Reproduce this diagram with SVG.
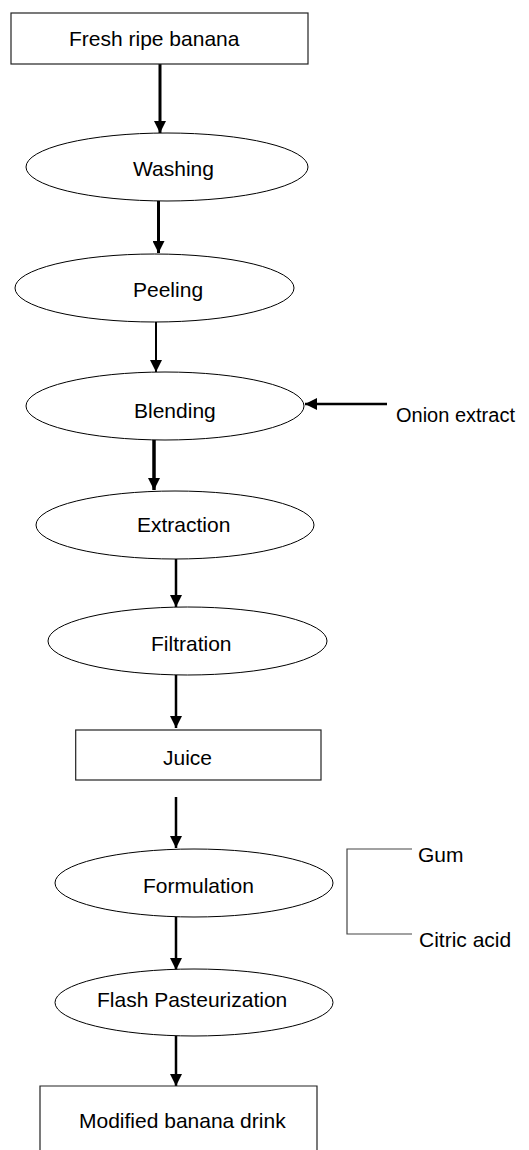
<svg xmlns="http://www.w3.org/2000/svg" width="529" height="1150" viewBox="0 0 529 1150">
<defs>
<marker id="ah" markerUnits="userSpaceOnUse" markerWidth="12" markerHeight="12" refX="12" refY="6" orient="auto">
<path d="M0,0 L12,6 L0,12 z" fill="#000"/>
</marker>
<style>
.box{fill:#fff;stroke:#222;stroke-width:1.2}
.ell{fill:#fff;stroke:#000;stroke-width:1}
.t{font-family:"Liberation Sans",Arial,sans-serif;font-size:21px;fill:#000}
.side{font-family:"Liberation Sans",Arial,sans-serif;font-size:20px;fill:#000}
.arr{stroke:#000;fill:none;marker-end:url(#ah)}
.br{stroke:#444;fill:none;stroke-width:1.2}
</style>
</defs>
<rect width="529" height="1150" fill="#fff"/>
<g id="connectors">
<line class="arr" x1="160" y1="64" x2="160" y2="133" stroke-width="3"/>
<line class="arr" x1="158.5" y1="201" x2="158.5" y2="253" stroke-width="3"/>
<line class="arr" x1="156" y1="322" x2="156" y2="372" stroke-width="2"/>
<line class="arr" x1="154" y1="440" x2="154" y2="490" stroke-width="3.5"/>
<line class="arr" x1="176" y1="555" x2="176" y2="607" stroke-width="2.5"/>
<line class="arr" x1="176" y1="675" x2="176" y2="728" stroke-width="2.5"/>
<line class="arr" x1="176" y1="797" x2="176" y2="848" stroke-width="2.5"/>
<line class="arr" x1="176" y1="917" x2="176" y2="970" stroke-width="2.5"/>
<line class="arr" x1="176" y1="1036" x2="176" y2="1086" stroke-width="2.5"/>
<line class="arr" x1="387" y1="404" x2="305" y2="404" stroke-width="2.5"/>
<path class="br" d="M412,849 H347 V934 H412"/>
</g>
<g id="fresh"><rect class="box" x="11" y="13" width="297" height="51"/><text class="t" x="69" y="46">Fresh ripe banana</text></g>
<g id="washing"><ellipse class="ell" cx="167" cy="167" rx="141" ry="34"/><text class="t" x="133" y="176">Washing</text></g>
<g id="peeling"><ellipse class="ell" cx="154.5" cy="288" rx="139.5" ry="34"/><text class="t" x="133" y="297">Peeling</text></g>
<g id="blending"><ellipse class="ell" cx="165" cy="406" rx="139" ry="34"/><text class="t" x="134" y="418">Blending</text></g>
<g id="onion"><text class="side" x="396" y="422">Onion extract</text></g>
<g id="extraction"><ellipse class="ell" cx="175" cy="525" rx="139" ry="34"/><text class="t" x="137" y="532">Extraction</text></g>
<g id="filtration"><ellipse class="ell" cx="187.5" cy="641" rx="139.5" ry="34"/><text class="t" x="151" y="651">Filtration</text></g>
<g id="juice"><rect class="box" x="75.7" y="730" width="245.3" height="50"/><text class="t" x="163" y="765">Juice</text></g>
<g id="formulation"><ellipse class="ell" cx="194" cy="883" rx="139" ry="34"/><text class="t" x="143" y="893">Formulation</text></g>
<g id="gum"><text class="t" x="418" y="862">Gum</text></g>
<g id="citric"><text class="t" x="419" y="947">Citric acid</text></g>
<g id="flash"><ellipse class="ell" cx="194" cy="1002.5" rx="139" ry="33.5"/><text class="t" x="97" y="1007">Flash Pasteurization</text></g>
<g id="modified"><path class="box" d="M40,1151 V1086 H317 V1151"/><text class="t" x="79" y="1128">Modified banana drink</text></g>
</svg>
